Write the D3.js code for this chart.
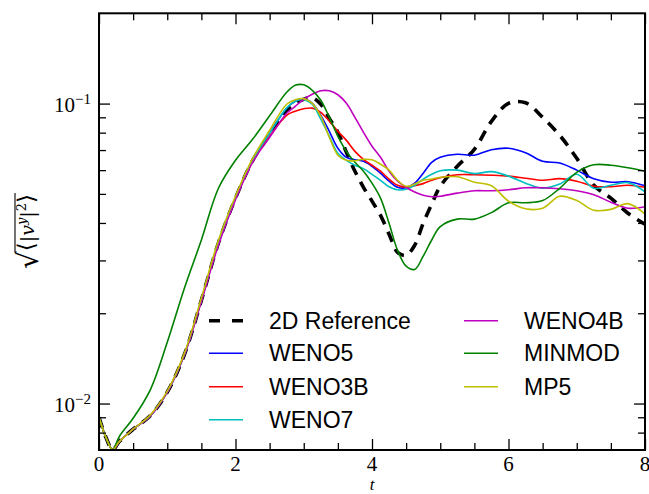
<!DOCTYPE html>
<html><head><meta charset="utf-8">
<script src="https://cdn.jsdelivr.net/npm/d3@7"></script>
<style>body{margin:0;background:#fff;} svg{display:block;}</style>
</head><body><svg id="c" width="649" height="494"></svg>
<script>
// ---------- data ----------
const times = [0,0.1,0.2,0.3,0.5,0.75,1,1.25,1.5,1.75,2,2.25,
  2.5,2.75,2.875,3,3.125,3.25,3.375,3.5,3.625,3.75,3.875,4,4.125,4.25,4.375,4.5,4.625,4.75,4.875,5,
  5.25,5.5,5.75,6,6.25,6.5,6.75,7,7.25,7.5,7.75,8];

const reference = [0.0090,0.00773,0.00702,0.00748,0.00821,0.00910,0.01092,0.01454,0.0221,0.0343,0.0484,0.0645,
  0.0787,0.0950,0.1002,0.1034,0.1046,0.0995,0.0893,0.0802,0.0688,0.0595,0.0526,0.0473,0.0424,0.0367,0.0319,0.0312,0.0337,0.0399,0.0462,0.0530,
  0.0618,0.0704,0.0873,0.1002,0.1006,0.0900,0.0784,0.0657,0.0534,0.0484,0.0431,0.0396];

const weno5 = [0.0090,0.00773,0.00702,0.00748,0.00821,0.00910,0.01092,0.01454,0.0221,0.0343,0.0484,0.0645,
  0.0796,0.0965,0.1018,0.1037,0.1002,0.0914,0.0808,0.0710,0.0662,0.0650,0.0642,0.0618,0.0586,0.0551,0.0526,0.0524,0.0543,0.0586,0.0637,0.0662,
  0.0678,0.0673,0.0702,0.0710,0.0686,0.0642,0.0634,0.0600,0.0562,0.0547,0.0549,0.0532];

const weno3b = [0.0090,0.00773,0.00702,0.00748,0.00821,0.00910,0.01092,0.01454,0.0221,0.0343,0.0484,0.0640,
  0.0778,0.0914,0.0943,0.0961,0.0966,0.0935,0.0873,0.0808,0.0754,0.0693,0.0652,0.0623,0.0595,0.0560,0.0534,0.0526,0.0532,0.0541,0.0555,0.0566,
  0.0579,0.0579,0.0577,0.0573,0.0564,0.0555,0.0562,0.0551,0.0530,0.0528,0.0534,0.0526];

const weno7 = [0.0090,0.00773,0.00702,0.00748,0.00821,0.00910,0.01092,0.01454,0.0221,0.0343,0.0484,0.0648,
  0.0796,0.0968,0.1018,0.1031,0.0995,0.0887,0.0778,0.0683,0.0647,0.0623,0.0607,0.0581,0.0555,0.0528,0.0516,0.0518,0.0534,0.0560,0.0581,0.0597,
  0.0600,0.0584,0.0593,0.0573,0.0543,0.0522,0.0539,0.0581,0.0522,0.0534,0.0545,0.0508];

const weno4b = [0.0090,0.00773,0.00702,0.00748,0.00821,0.00910,0.01092,0.01454,0.0219,0.0338,0.0478,0.0637,
  0.0772,0.0928,0.0979,0.1034,0.1074,0.1103,0.1103,0.1070,0.1002,0.0900,0.0802,0.0721,0.0662,0.0595,0.0551,0.0526,0.0507,0.0495,0.0489,0.0491,
  0.0503,0.0512,0.0512,0.0516,0.0524,0.0524,0.0520,0.0512,0.0497,0.0469,0.0448,0.0453];

const minmod = [0.0090,0.00773,0.00702,0.00778,0.00893,0.01109,0.0160,0.0242,0.0351,0.0522,0.0647,0.0760,
  0.0911,0.1091,0.1151,0.1155,0.1107,0.1026,0.0900,0.0778,0.0693,0.0637,0.0595,0.0543,0.0484,0.0399,0.0324,0.0287,0.0280,0.0310,0.0351,0.0389,
  0.0412,0.0412,0.0433,0.0467,0.0467,0.0475,0.0522,0.0590,0.0625,0.0623,0.0611,0.0595];

const mp5 = [0.0090,0.00773,0.00702,0.00748,0.00821,0.00915,0.01100,0.01470,0.0225,0.0350,0.0492,0.0655,
  0.0815,0.0995,0.1030,0.1039,0.1002,0.0907,0.0772,0.0673,0.0647,0.0645,0.0652,0.0650,0.0628,0.0600,0.0555,0.0530,0.0539,0.0555,0.0560,0.0568,
  0.0570,0.0547,0.0532,0.0473,0.0446,0.0448,0.0491,0.0475,0.0441,0.0444,0.0464,0.0428];

const seriesNames = ["2D Reference","WENO5","WENO3B","WENO7","WENO4B","MINMOD","MP5"];
const seriesValues = [reference, weno5, weno3b, weno7, weno4b, minmod, mp5];
const seriesColors = ["#000000","#0000ff","#ff0000","#00bfbf","#bf00bf","#008000","#bfbf00"];

const xMajorTicks = [0,2,4,6,8];
const xMinorTicks = [0.5,1,1.5,2.5,3,3.5,4.5,5,5.5,6.5,7,7.5];
const yMajorTicks = [0.01,0.1];
const yMinorTicks = [0.008,0.009,0.02,0.03,0.04,0.05,0.06,0.07,0.08,0.09];
const yTickExponents = ["\u22122","\u22121"];

// ---------- layout ----------
const L = 99, R = 645, T = 13.3, B = 450;
const svg = d3.select("#c");
const x = d3.scaleLinear().domain([0,8]).range([L,R]);
const y = d3.scaleLog().domain([0.007,0.2]).range([B,T]);

svg.append("defs").append("clipPath").attr("id","clip")
  .append("rect").attr("x",L).attr("y",T).attr("width",R-L).attr("height",B-T);

// series
const line = d3.line().x((d,i)=>x(times[i])).y(d=>y(d)).curve(d3.curveCatmullRom.alpha(0.5));
const plot = svg.append("g").attr("clip-path","url(#clip)");
seriesValues.forEach((vals,k)=>{
  plot.append("path").datum(vals).attr("d",line)
    .attr("fill","none").attr("stroke",seriesColors[k])
    .attr("stroke-width", k===0 ? 3.6 : 1.6)
    .attr("stroke-dasharray", k===0 ? "11,8" : null)
    .attr("stroke-linejoin","round");
});

// ticks (inward)
function ticks(axisFn, scale, vals, size, tr){
  svg.append("g").attr("transform",tr)
    .call(axisFn(scale).tickValues(vals).tickSize(size).tickFormat(""))
    .call(g=>{g.select(".domain").remove(); g.selectAll("text").remove();
      g.selectAll("line").attr("stroke","#000").attr("stroke-width",1.3);});
}
ticks(d3.axisBottom, x, xMajorTicks, -11, `translate(0,${B})`);
ticks(d3.axisBottom, x, xMinorTicks, -7, `translate(0,${B})`);
ticks(d3.axisTop, x, xMajorTicks, -11, `translate(0,${T})`);
ticks(d3.axisTop, x, xMinorTicks, -7, `translate(0,${T})`);
ticks(d3.axisLeft, y, yMajorTicks, -11, `translate(${L},0)`);
ticks(d3.axisLeft, y, yMinorTicks, -7, `translate(${L},0)`);
ticks(d3.axisRight, y, yMajorTicks, -11, `translate(${R},0)`);
ticks(d3.axisRight, y, yMinorTicks, -7, `translate(${R},0)`);

// frame
svg.append("rect").attr("x",L).attr("y",T).attr("width",R-L).attr("height",B-T)
  .attr("fill","none").attr("stroke","#000").attr("stroke-width",2);

// tick labels
const serif = "'Liberation Serif','DejaVu Serif',serif";
svg.append("g").selectAll("text").data(xMajorTicks).join("text")
  .attr("x",d=>x(d)).attr("y",471).attr("text-anchor","middle")
  .attr("font-family",serif).attr("font-size",21).text(d=>d);
yMajorTicks.forEach((v,i)=>{
  const t = svg.append("text").attr("x",91).attr("y",y(v)+8).attr("text-anchor","end")
    .attr("font-family",serif).attr("font-size",21);
  t.append("tspan").text("10");
  t.append("tspan").attr("dy",-8).attr("font-size",15).text(yTickExponents[i]);
});

// x label
svg.append("text").attr("x",x(4)).attr("y",490).attr("text-anchor","middle")
  .attr("font-family",serif).attr("font-style","italic").attr("font-size",17).text("t");

// y label
const yl = svg.append("g").attr("transform","translate(38,231) rotate(-90)");
const rad = yl.append("text").attr("x",-38).attr("y",0).attr("font-family","'DejaVu Serif',serif")
  .attr("font-size",28).text("\u221A");
const radW = rad.node().getComputedTextLength();
const body = yl.append("text").attr("x",-38+radW).attr("y",-4).attr("font-family","'DejaVu Serif',serif")
  .attr("font-size",19);
body.append("tspan").attr("font-size",23).text("\u27E8");
body.append("tspan").text("|");
body.append("tspan").attr("font-style","italic").text("v");
body.append("tspan").attr("font-style","italic").attr("font-size",13).attr("dy",-8).text("y");
body.append("tspan").attr("dy",8).text("|");
body.append("tspan").attr("font-size",13).attr("dy",-8).text("2");
body.append("tspan").attr("dy",8).attr("font-size",23).text("\u27E9");
const bw = body.node().getComputedTextLength();
yl.append("line").attr("x1",-38+radW-1.5).attr("x2",-38+radW+bw+1).attr("y1",-23).attr("y2",-23)
  .attr("stroke","#000").attr("stroke-width",1.1);

// legend
const sans = "'Liberation Sans',Arial,sans-serif";
const legendCols = [[0,1,2,3],[4,5,6]];
const colX = [209, 464];
const rowY = [320.7, 353.3, 386.7, 419.7];
legendCols.forEach((col,ci)=>{
  col.forEach((k,ri)=>{
    const ly = rowY[ri];
    svg.append("line").attr("x1",colX[ci]).attr("x2",colX[ci]+34).attr("y1",ly).attr("y2",ly)
      .attr("stroke",seriesColors[k]).attr("stroke-width",k===0?3.6:1.6)
      .attr("stroke-dasharray",k===0?"11,12":null);
    svg.append("text").attr("x",colX[ci]+60).attr("y",ly+8).attr("font-family",sans)
      .attr("font-size",23).attr("fill","#000").text(seriesNames[k]);
  });
});
</script>
</body></html>
